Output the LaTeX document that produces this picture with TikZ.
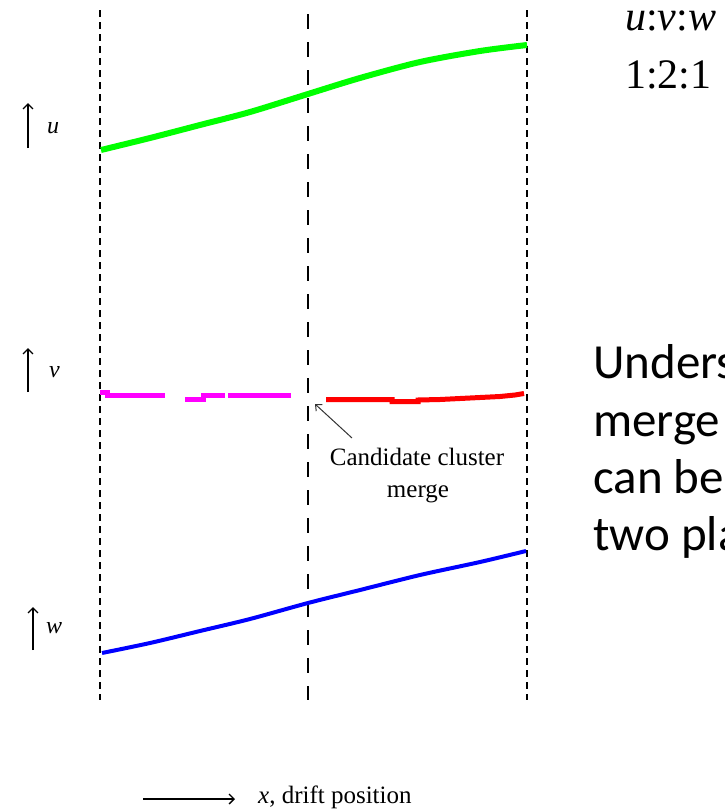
\documentclass[tikz,border=0pt]{standalone}
\usepackage{fontspec}
\setmainfont{Liberation Serif}
\newfontfamily\calfont{Carlito}
\usetikzlibrary{arrows.meta}
\begin{document}
\begin{tikzpicture}[x=1pt,y=-1pt,
  guide/.style={line width=1.3pt, dash pattern=on 7pt off 5pt},
  guidelong/.style={line width=1.3pt, dash pattern=on 15pt off 13pt},
  trace/.style={line width=5pt, line join=miter},
  axisarrow/.style={line width=1.3pt, -{Straight Barb[length=5pt,width=10pt,line width=1.3pt]}},
  thinarrow/.style={line width=1pt, draw=black!80, -{Straight Barb[length=5pt,width=9pt]}},
  lbl/.style={inner sep=0pt, anchor=base west, font=\fontsize{24}{28}\selectfont\itshape},
  serif/.style={inner sep=0pt, font=\fontsize{25}{30}\selectfont},
  big/.style={inner sep=0pt, anchor=base west, font=\calfont\fontsize{49}{57}\selectfont},
  ratio/.style={inner sep=0pt, anchor=base west, font=\fontsize{42}{48}\selectfont}]
\useasboundingbox (0,0) rectangle (725,809);

% guide lines
\coordinate (L1) at (100,10);  \coordinate (L2) at (100,700);
\coordinate (M1) at (308,14);  \coordinate (M2) at (308,700);
\coordinate (R1) at (527,10);  \coordinate (R2) at (527,700);
\draw[guide] (L1) -- (L2);
\draw[guidelong] (M1) -- (M2);
\draw[guide] (R1) -- (R2);

% u trace (green)
\draw[trace, line width=6pt, color={rgb,255:red,0;green,255;blue,0}] plot[smooth] coordinates
  {(101,150) (150,138) (200,125) (250,112) (308,94) (360,78) (420,62) (480,51) (527,45)};

% v trace (magenta, broken) and red
\draw[trace, color={rgb,255:red,255;green,0;blue,255}]
  (100,392.5) -- (107,392.5) -- (107,395) -- (165,395);
\draw[trace, color={rgb,255:red,255;green,0;blue,255}]
  (185,399.5) -- (203,399.5) -- (203,395) -- (225,395);
\draw[trace, color={rgb,255:red,255;green,0;blue,255}]
  (228,395) -- (291,395);
\draw[trace, color={rgb,255:red,255;green,0;blue,0}]
  (326,399.5) -- (392,399.5) -- (392,401.5) -- (418,401.5) -- (418,400)
  -- (440,399.5) -- (470,398) -- (500,396.5) -- (515,395) -- (524,393.5);

% w trace (blue)
\draw[trace, line width=4pt, color={rgb,255:red,0;green,0;blue,255}] plot[smooth] coordinates
  {(102,653) (150,643) (200,631) (250,619) (308,603) (360,590) (420,575) (480,562) (526,551)};

% axis arrows and labels
\coordinate (ua) at (28,148); \coordinate (ub) at (28,103);
\draw[axisarrow] (ua) -- (ub);
\node[lbl] (ulab) at (47,133) {u};
\coordinate (va) at (28,392); \coordinate (vb) at (28,348);
\draw[axisarrow] (va) -- (vb);
\node[lbl] (vlab) at (49,377) {v};
\coordinate (wa) at (33,650); \coordinate (wb) at (33,607);
\draw[axisarrow] (wa) -- (wb);
\node[lbl] (wlab) at (46,633) {w};

% candidate merge annotation
\node[serif, anchor=base] (cand1) at (417,465) {Candidate cluster};
\node[serif, anchor=base] (cand2) at (418,497) {merge};
\coordinate (ctail) at (352,438); \coordinate (ctip) at (315,404);
\draw[thinarrow] (ctail) -- (ctip);

% x axis
\coordinate (xa) at (143,799); \coordinate (xb) at (235,799);
\draw[axisarrow] (xa) -- (xb);
\node[serif, anchor=base west] (xlab) at (258,803) {\textit{x}, drift position};

% ratio
\node[ratio] (rat1) at (625,30) {\textit{u}:\textit{v}:\textit{w}};
\node[ratio] (rat2) at (625,88) {1:2:1};

% right text (clipped by page edge)
\begin{scope}
\clip (0,0) rectangle (725,809);
\node[big] (t1) at (593,378) {Unders};
\node[big] (t2) at (593,436) {merge};
\node[big] (t3) at (593,493) {can be};
\node[big] (t4) at (593,550) {two pla};
\end{scope}
\end{tikzpicture}
\end{document}
